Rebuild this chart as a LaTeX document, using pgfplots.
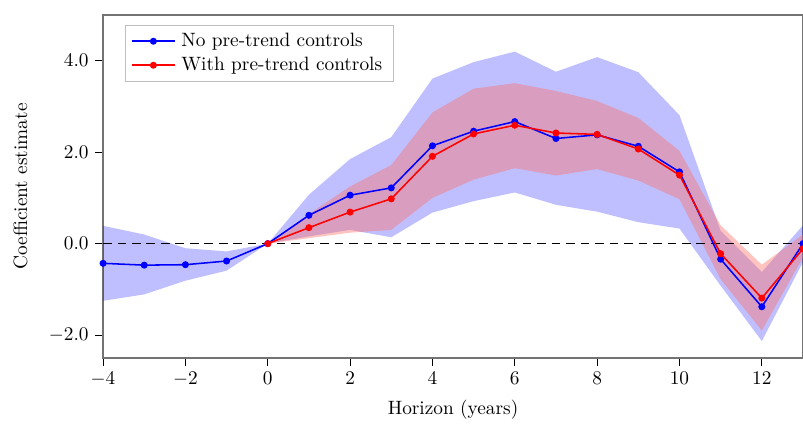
\documentclass[border=0pt]{standalone}
\usepackage{pgfplots}
\usepackage{pgfplotstable}
\pgfplotsset{compat=1.18}
\usepgfplotslibrary{fillbetween}
\definecolor{rband}{RGB}{255,108,97}

\pgfplotstableread{
x    b      bl     bu
-4  -0.43  -1.25   0.39
-3  -0.47  -1.11   0.20
-2  -0.46  -0.81  -0.10
-1  -0.38  -0.59  -0.17
0    0.00   0.00   0.00
1    0.62   0.16   1.07
2    1.06   0.30   1.85
3    1.22   0.14   2.33
4    2.14   0.68   3.61
5    2.46   0.93   3.97
6    2.67   1.12   4.20
7    2.30   0.85   3.76
8    2.38   0.70   4.08
9    2.13   0.47   3.75
10   1.57   0.33   2.81
11  -0.34  -0.92   0.28
12  -1.38  -2.13  -0.62
13   0.00  -0.40   0.40
}\blue

\pgfplotstableread{
x    r      rl     ru
0    0.00   0.00   0.00
1    0.35   0.12   0.65
2    0.69   0.24   1.25
3    0.98   0.30   1.72
4    1.91   1.00   2.87
5    2.40   1.40   3.39
6    2.59   1.65   3.51
7    2.42   1.49   3.34
8    2.39   1.63   3.12
9    2.07   1.38   2.75
10   1.50   0.97   2.03
11  -0.22  -0.78   0.40
12  -1.19  -1.90  -0.46
13  -0.11  -0.30   0.20
}\red

\begin{document}
\begin{tikzpicture}
\begin{axis}[
  width=362.7pt, height=177.7pt, scale only axis,
  xmin=-4, xmax=13, ymin=-2.5, ymax=5,
  xtick={-4,-2,...,12}, ytick={-2,0,2,4},
  xtick pos=bottom, ytick pos=left,
  yticklabel style={/pgf/number format/.cd, fixed, fixed zerofill, precision=1},
  tick align=outside, major tick length=4pt,
  tick style={black, line width=0.4pt},
  axis line style={draw=black!55, line width=0.6pt},
  xlabel={Horizon (years)}, ylabel={Coefficient estimate},
  xlabel style={at={(rel axis cs:0.5,-0.152)}, anchor=center},
  ylabel style={at={(rel axis cs:-0.118,0.5)}, anchor=center},
  clip mode=individual,
  legend style={at={(rel axis cs:0.0314,0.971)}, anchor=north west,
    draw=black!25, font=\normalsize, row sep=0pt, inner xsep=3pt, inner ysep=2pt,
    nodes={inner xsep=3pt}},
  legend cell align=left,
  legend image code/.code={\draw[mark repeat=2,mark phase=2,#1] plot coordinates {(0cm,0cm) (0.39cm,0cm) (0.78cm,0cm)};},
]
\coordinate (A) at (rel axis cs:0,0);
\coordinate (B) at (rel axis cs:1,1);

\addplot[name path=bu, draw=none, forget plot] table[x=x,y=bu] {\blue};
\addplot[name path=bl, draw=none, forget plot] table[x=x,y=bl] {\blue};
\addplot[fill=blue, fill opacity=0.25, draw=none, forget plot] fill between[of=bu and bl];

\addplot[name path=ru, draw=none, forget plot] table[x=x,y=ru] {\red};
\addplot[name path=rl, draw=none, forget plot] table[x=x,y=rl] {\red};
\addplot[fill=rband, fill opacity=0.4, draw=none, forget plot] fill between[of=ru and rl];

\addplot[black, dash pattern=on 4.5pt off 3pt, line width=0.7pt, forget plot] coordinates {(-4,0) (13,0)};

\addplot[blue, line width=0.8pt, mark=*, mark size=1.4pt] table[x=x,y=b] {\blue};
\addlegendentry{No pre-trend controls}
\addplot[red, line width=0.8pt, mark=*, mark size=1.4pt] table[x=x,y=r] {\red};
\addlegendentry{With pre-trend controls}
\end{axis}
\pgfresetboundingbox
\path[use as bounding box] ([xshift=-53.4pt,yshift=-34.7pt]A) rectangle ([yshift=7.8pt]B);
\end{tikzpicture}
\end{document}
